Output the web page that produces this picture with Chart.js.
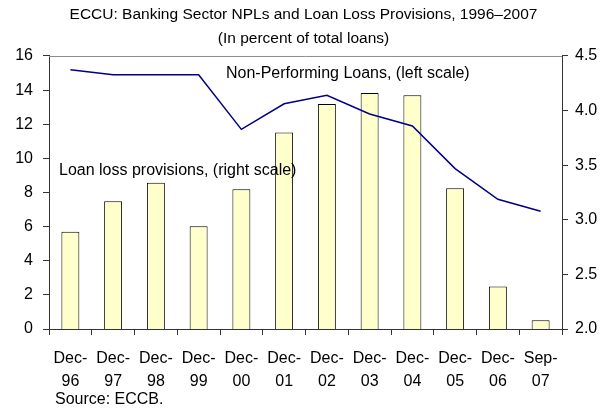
<!DOCTYPE html>
<html>
  <head>
    <meta charset="UTF-8">
    <title>ECCU NPLs</title>
    <script src="https://cdn.jsdelivr.net/npm/chart.js"></script>
    <style>
      body {
        margin: 0;
        background: white;
      }
    </style>
  </head>
  <body>
    <canvas id="myChart" width="607" height="409"></canvas>

    <script>
      const categories = [
        ["Dec-", "96"], ["Dec-", "97"], ["Dec-", "98"], ["Dec-", "99"],
        ["Dec-", "00"], ["Dec-", "01"], ["Dec-", "02"], ["Dec-", "03"],
        ["Dec-", "04"], ["Dec-", "05"], ["Dec-", "06"], ["Sep-", "07"]
      ];
      // non-performing loans, left scale
      const nplValues = [15.2, 14.9, 14.9, 14.9, 11.7, 13.2, 13.7, 12.6, 11.9, 9.4, 7.6, 6.9];
      // loan loss provisions, right scale
      const provisionValues = [2.89, 3.17, 3.34, 2.94, 3.28, 3.80, 4.06, 4.16, 4.14, 3.29, 2.39, 2.08];
      const leftTicks = [0, 2, 4, 6, 8, 10, 12, 14, 16];
      const rightTicks = [2.0, 2.5, 3.0, 3.5, 4.0, 4.5];

      const fontFamily = "Arial, 'Liberation Sans', sans-serif";
      const axisColor = "#333333";

      // frame line on top, text labels and source note
      const extras = {
        id: "extras",
        beforeDatasetsDraw(chart) {
          const ctx = chart.ctx;
          const area = chart.chartArea;
          ctx.save();
          ctx.strokeStyle = "#8c8c8c";
          ctx.lineWidth = 1;
          ctx.beginPath();
          ctx.moveTo(area.left, area.top + 0.5);
          ctx.lineTo(area.right, area.top + 0.5);
          ctx.stroke();
          ctx.restore();
        },
        afterDraw(chart) {
          const ctx = chart.ctx;
          ctx.save();
          ctx.fillStyle = "black";
          ctx.textBaseline = "middle";
          ctx.textAlign = "left";
          ctx.font = "16px " + fontFamily;
          ctx.fillText("Non-Performing Loans, (left scale)", 226, 74);
          ctx.fillText("Loan loss provisions, (right scale)", 59, 171);
          ctx.fillText("Source: ECCB.", 55, 400);
          ctx.restore();
        }
      };

      const ctx = document.getElementById("myChart").getContext("2d");
      const myChart = new Chart(ctx, {
        data: {
          labels: categories,
          datasets: [
            {
              type: "line",
              label: "Non-Performing Loans",
              data: nplValues,
              yAxisID: "y",
              borderColor: "#000080",
              borderWidth: 1.5,
              pointRadius: 0,
              tension: 0,
              order: 0
            },
            {
              type: "bar",
              label: "Loan loss provisions",
              data: provisionValues,
              yAxisID: "y1",
              backgroundColor: "#FFFFCC",
              borderColor: "black",
              borderWidth: 1,
              barPercentage: 0.42,
              categoryPercentage: 1,
              order: 1
            }
          ]
        },
        options: {
          responsive: false,
          animation: false,
          layout: { padding: 0 },
          scales: {
            x: {
              grid: {
                display: true,
                drawOnChartArea: false,
                drawTicks: true,
                tickLength: 6,
                color: axisColor,
                offset: true
              },
              border: { display: true, color: axisColor },
              ticks: {
                color: "black",
                padding: 12,
                maxRotation: 0,
                autoSkip: false,
                font: { family: fontFamily, size: 16, lineHeight: 1.45 }
              },
              afterFit(scale) {
                scale.height = 80;
              }
            },
            y: {
              position: "left",
              min: 0,
              max: 16,
              afterBuildTicks(scale) {
                scale.ticks = leftTicks.map(v => ({ value: v }));
              },
              grid: {
                drawOnChartArea: false,
                drawTicks: true,
                tickLength: 6,
                color: axisColor
              },
              border: { display: true, color: axisColor },
              ticks: {
                color: "black",
                padding: 10,
                font: { family: fontFamily, size: 16 }
              },
              afterFit(scale) {
                scale.width = 49;
              }
            },
            y1: {
              position: "right",
              min: 2,
              max: 4.5,
              afterBuildTicks(scale) {
                scale.ticks = rightTicks.map(v => ({ value: v }));
              },
              grid: {
                drawOnChartArea: false,
                drawTicks: true,
                tickLength: 6,
                color: axisColor
              },
              border: { display: true, color: axisColor },
              ticks: {
                color: "black",
                padding: 7,
                font: { family: fontFamily, size: 16 },
                callback: function(value) {
                  return Number(value).toFixed(1);
                }
              },
              afterFit(scale) {
                scale.width = 45;
              }
            }
          },
          plugins: {
            legend: { display: false },
            tooltip: { enabled: false },
            title: {
              display: true,
              text: [
                "ECCU: Banking Sector NPLs and Loan Loss Provisions, 1996\u20132007",
                "(In percent of total loans)"
              ],
              color: "black",
              font: { family: fontFamily, size: 15.5, weight: "normal", lineHeight: 1.548 },
              padding: { top: 3, bottom: 5 }
            }
          }
        },
        plugins: [extras]
      });
    </script>
  </body>
</html>
